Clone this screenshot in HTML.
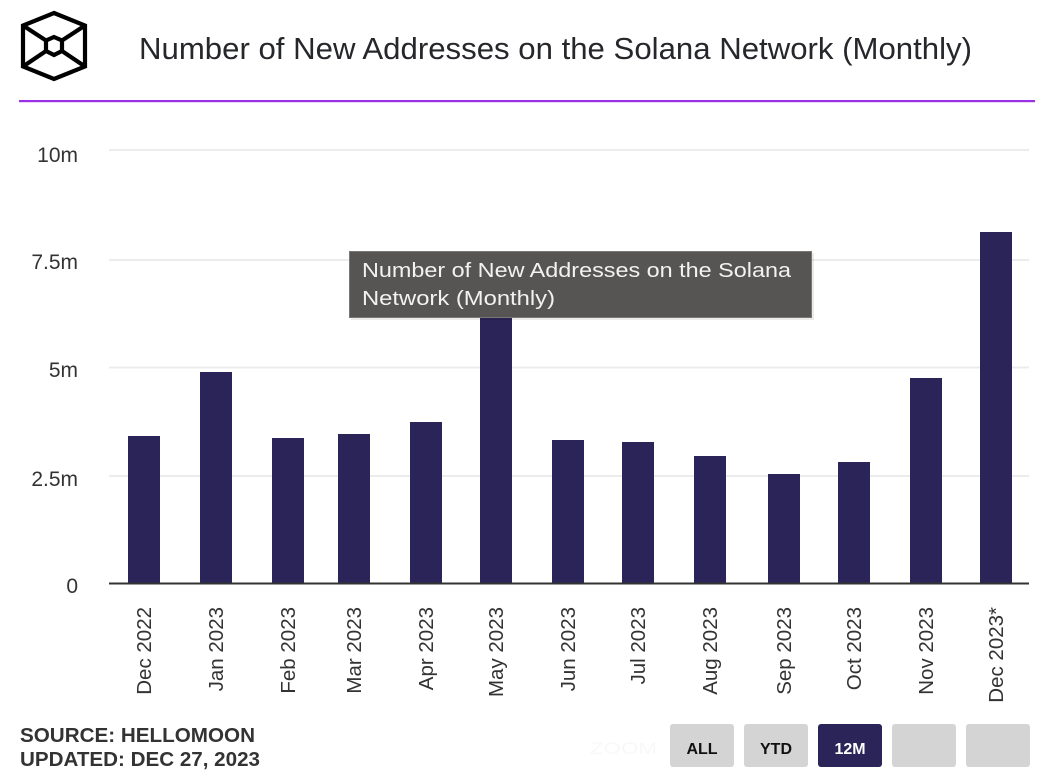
<!DOCTYPE html>
<html>
<head>
<meta charset="utf-8">
<style>
  html,body{margin:0;padding:0;background:#fff;}
  body{width:1054px;height:784px;overflow:hidden;}
  svg{display:block;}
  text{font-family:"Liberation Sans", Arial, sans-serif;}
</style>
</head>
<body>
<svg width="1054" height="784" viewBox="0 0 1054 784" xmlns="http://www.w3.org/2000/svg">
  <!-- Logo -->
  <g fill="none" stroke="#000" stroke-width="4.2" stroke-linejoin="miter">
    <polygon points="54,13 85,25.5 85,66.5 54,79 23,66.5 23,25.5"/>
    <polygon points="54,37 62,40.5 62,51 54,55 46,51 46,40.5"/>
    <line x1="23" y1="25.5" x2="46" y2="40.5"/>
    <line x1="85" y1="25.5" x2="62" y2="40.5"/>
    <line x1="23" y1="66.5" x2="46" y2="51"/>
    <line x1="85" y1="66.5" x2="62" y2="51"/>
  </g>

  <!-- Title -->
  <text x="139" y="59" font-size="31" fill="#25272b" textLength="833" lengthAdjust="spacingAndGlyphs">Number of New Addresses on the Solana Network (Monthly)</text>

  <!-- Purple rule -->
  <rect x="19" y="100" width="1016" height="2.2" fill="#9b2fe4"/>

  <!-- Gridlines -->
  <g stroke="#ececec" stroke-width="2">
    <line x1="109" y1="150" x2="1029" y2="150"/>
    <line x1="109" y1="260" x2="1029" y2="260"/>
    <line x1="109" y1="367.5" x2="1029" y2="367.5"/>
    <line x1="109" y1="476" x2="1029" y2="476"/>
  </g>

  <!-- Y labels -->
  <g font-size="21" fill="#333" text-anchor="end">
    <text x="78" y="162">10m</text>
    <text x="78" y="269">7.5m</text>
    <text x="78" y="377">5m</text>
    <text x="78" y="486">2.5m</text>
    <text x="78" y="593">0</text>
  </g>

  <!-- Bars -->
  <g fill="#2b2459">
    <rect x="128" y="436" width="32" height="148"/>
    <rect x="200" y="372" width="32" height="212"/>
    <rect x="272" y="438" width="32" height="146"/>
    <rect x="338" y="434" width="32" height="150"/>
    <rect x="410" y="422" width="32" height="162"/>
    <rect x="480" y="300" width="32" height="284"/>
    <rect x="552" y="440" width="32" height="144"/>
    <rect x="622" y="442" width="32" height="142"/>
    <rect x="694" y="456" width="32" height="128"/>
    <rect x="768" y="474" width="32" height="110"/>
    <rect x="838" y="462" width="32" height="122"/>
    <rect x="910" y="378" width="32" height="206"/>
    <rect x="980" y="232" width="32" height="352"/>
  </g>

  <!-- Axis -->
  <line x1="109" y1="583.5" x2="1029" y2="583.5" stroke="#333" stroke-width="2"/>

  <!-- X labels -->
  <g font-size="20.5" fill="#333" text-anchor="end">
    <text transform="translate(151,607) rotate(-90)">Dec 2022</text>
    <text transform="translate(223,607) rotate(-90)">Jan 2023</text>
    <text transform="translate(295,607) rotate(-90)">Feb 2023</text>
    <text transform="translate(361,607) rotate(-90)">Mar 2023</text>
    <text transform="translate(433,607) rotate(-90)">Apr 2023</text>
    <text transform="translate(503,607) rotate(-90)">May 2023</text>
    <text transform="translate(575,607) rotate(-90)">Jun 2023</text>
    <text transform="translate(645,607) rotate(-90)">Jul 2023</text>
    <text transform="translate(717,607) rotate(-90)">Aug 2023</text>
    <text transform="translate(791,607) rotate(-90)">Sep 2023</text>
    <text transform="translate(861,607) rotate(-90)">Oct 2023</text>
    <text transform="translate(933,607) rotate(-90)">Nov 2023</text>
    <text transform="translate(1003,607) rotate(-90)">Dec 2023*</text>
  </g>

  <!-- Tooltip -->
  <rect x="351" y="253" width="463" height="67" fill="#000" opacity="0.08"/>
  <rect x="349.5" y="251.5" width="462" height="66" fill="#575553" stroke="#7a7876" stroke-width="1"/>
  <g font-size="20" fill="#f2f2f2">
    <text x="362" y="277" textLength="429" lengthAdjust="spacingAndGlyphs">Number of New Addresses on the Solana</text>
    <text x="362" y="305" textLength="193" lengthAdjust="spacingAndGlyphs">Network (Monthly)</text>
  </g>

  <!-- Footer -->
  <g font-size="20" font-weight="bold" fill="#333">
    <text x="20" y="742" textLength="235" lengthAdjust="spacingAndGlyphs">SOURCE: HELLOMOON</text>
    <text x="20" y="766" textLength="240" lengthAdjust="spacingAndGlyphs">UPDATED: DEC 27, 2023</text>
  </g>

  <!-- Zoom buttons -->
  <text x="590" y="754" font-size="17" fill="#f8f8f8" textLength="67" lengthAdjust="spacingAndGlyphs">ZOOM</text>
  <rect x="670" y="724" width="64" height="43" rx="3" fill="#d4d4d4"/>
  <rect x="744" y="724" width="64" height="43" rx="3" fill="#d4d4d4"/>
  <rect x="818" y="724" width="64" height="43" rx="3" fill="#2b2459"/>
  <rect x="892" y="724" width="64" height="43" rx="3" fill="#d4d4d4"/>
  <rect x="966" y="724" width="64" height="43" rx="3" fill="#d4d4d4"/>
  <g font-size="16" font-weight="bold" text-anchor="middle">
    <text x="702" y="754" fill="#111">ALL</text>
    <text x="776" y="754" fill="#111">YTD</text>
    <text x="850" y="754" fill="#fff">12M</text>
  </g>
</svg>
</body>
</html>
